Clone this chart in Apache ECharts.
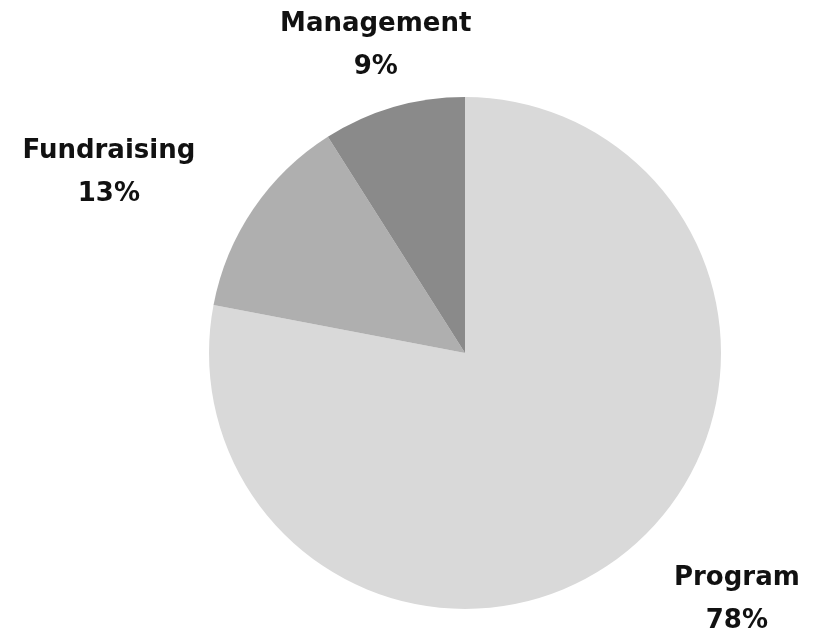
<!DOCTYPE html>
<html>
<head>
<meta charset="utf-8">
<script src="https://cdn.jsdelivr.net/npm/echarts@6/dist/echarts.min.js"></script>
<style>
  html, body { margin: 0; padding: 0; background: #fff; }
  #chart { width: 825px; height: 639px; }
</style>
</head>
<body>
<div id="chart"></div>
<script>
// expense categories and their share (%)
var categories = ['Program', 'Fundraising', 'Management'];
var shares = [78, 13, 9];
// slice fills, same order as categories
var sliceColors = ['#d9d9d9', '#afafaf', '#8a8a8a'];

var myChart = echarts.init(document.getElementById('chart'));

var pieData = categories.map(function (name, i) {
  return { name: name, value: shares[i], itemStyle: { color: sliceColors[i] } };
});

var option = {
  animation: false,
  backgroundColor: '#fff',
  series: [
    {
      type: 'pie',
      center: [465, 353],
      radius: 256,
      startAngle: 90,
      clockwise: true,
      avoidLabelOverlap: false,
      silent: true,
      data: pieData,
      label: {
        show: true,
        position: 'outside',
        distanceToLabelLine: 5,
        formatter: '{t|{b}}\n{t|{c}%}',
        rich: {
          t: {
            fontFamily: 'DejaVu Sans',
            fontWeight: 'bold',
            fontSize: 26,
            lineHeight: 43,
            color: '#111',
            align: 'center'
          }
        }
      },
      labelLine: { show: false, length: 64, length2: 0 },
      // the label near the top sits centred over its anchor
      labelLayout: function (params) {
        if (params.dataIndex === 2) {
          return { align: 'center', dx: 5 };
        }
        return {};
      }
    }
  ]
};

myChart.setOption(option);
</script>
</body>
</html>
